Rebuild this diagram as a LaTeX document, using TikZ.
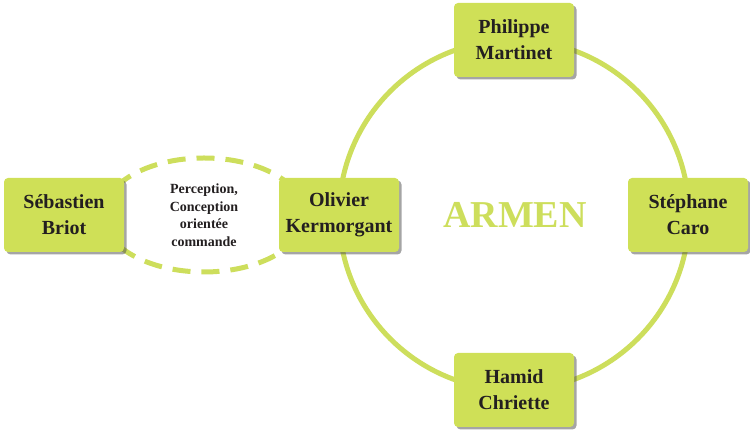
\documentclass[tikz,border=0pt]{standalone}
\usepackage{fontspec}
\setmainfont{Liberation Serif}
\usetikzlibrary{shadows}
\definecolor{lime}{RGB}{207,224,87}
\definecolor{ring}{RGB}{205,222,92}
\definecolor{ink}{RGB}{35,31,32}
\tikzset{
  person/.style={fill=lime, rounded corners=4pt, minimum width=120pt, minimum height=74pt,
    align=center, text=ink, font=\fontsize{20}{26}\selectfont\bfseries,
    drop shadow={shadow xshift=2.5pt, shadow yshift=-2.5pt, opacity=0.5, fill=black!70}},
  ringline/.style={draw=ring, line width=5pt},
  dashring/.style={draw=ring, line width=5pt, dash pattern=on 18pt off 11pt},
}
\begin{document}
\begin{tikzpicture}[x=1pt,y=1pt]
\useasboundingbox (0,0) rectangle (750,430);
% team circle and the dashed link between the two left members
\draw[ringline] (514,215) circle (175);
\draw[dashring] (204,215) ellipse (101 and 57);
\node[text=ring, font=\fontsize{38}{42}\selectfont\bfseries] (armen) at (515,215) {ARMEN};
\node[align=center, text=ink, font=\fontsize{14}{17.5}\selectfont\bfseries] (theme) at (204,215)
  {Perception,\\Conception\\orientée\\commande};
% members
\node[person] (pm) at (514,390) {Philippe\\Martinet};
\node[person] (sc) at (688,215) {Stéphane\\Caro};
\node[person] (hc) at (514,40) {Hamid\\Chriette};
\node[person] (ok) at (339,215) {Olivier\\Kermorgant};
\node[person] (sb) at (64,215) {Sébastien\\Briot};
\end{tikzpicture}
\end{document}
